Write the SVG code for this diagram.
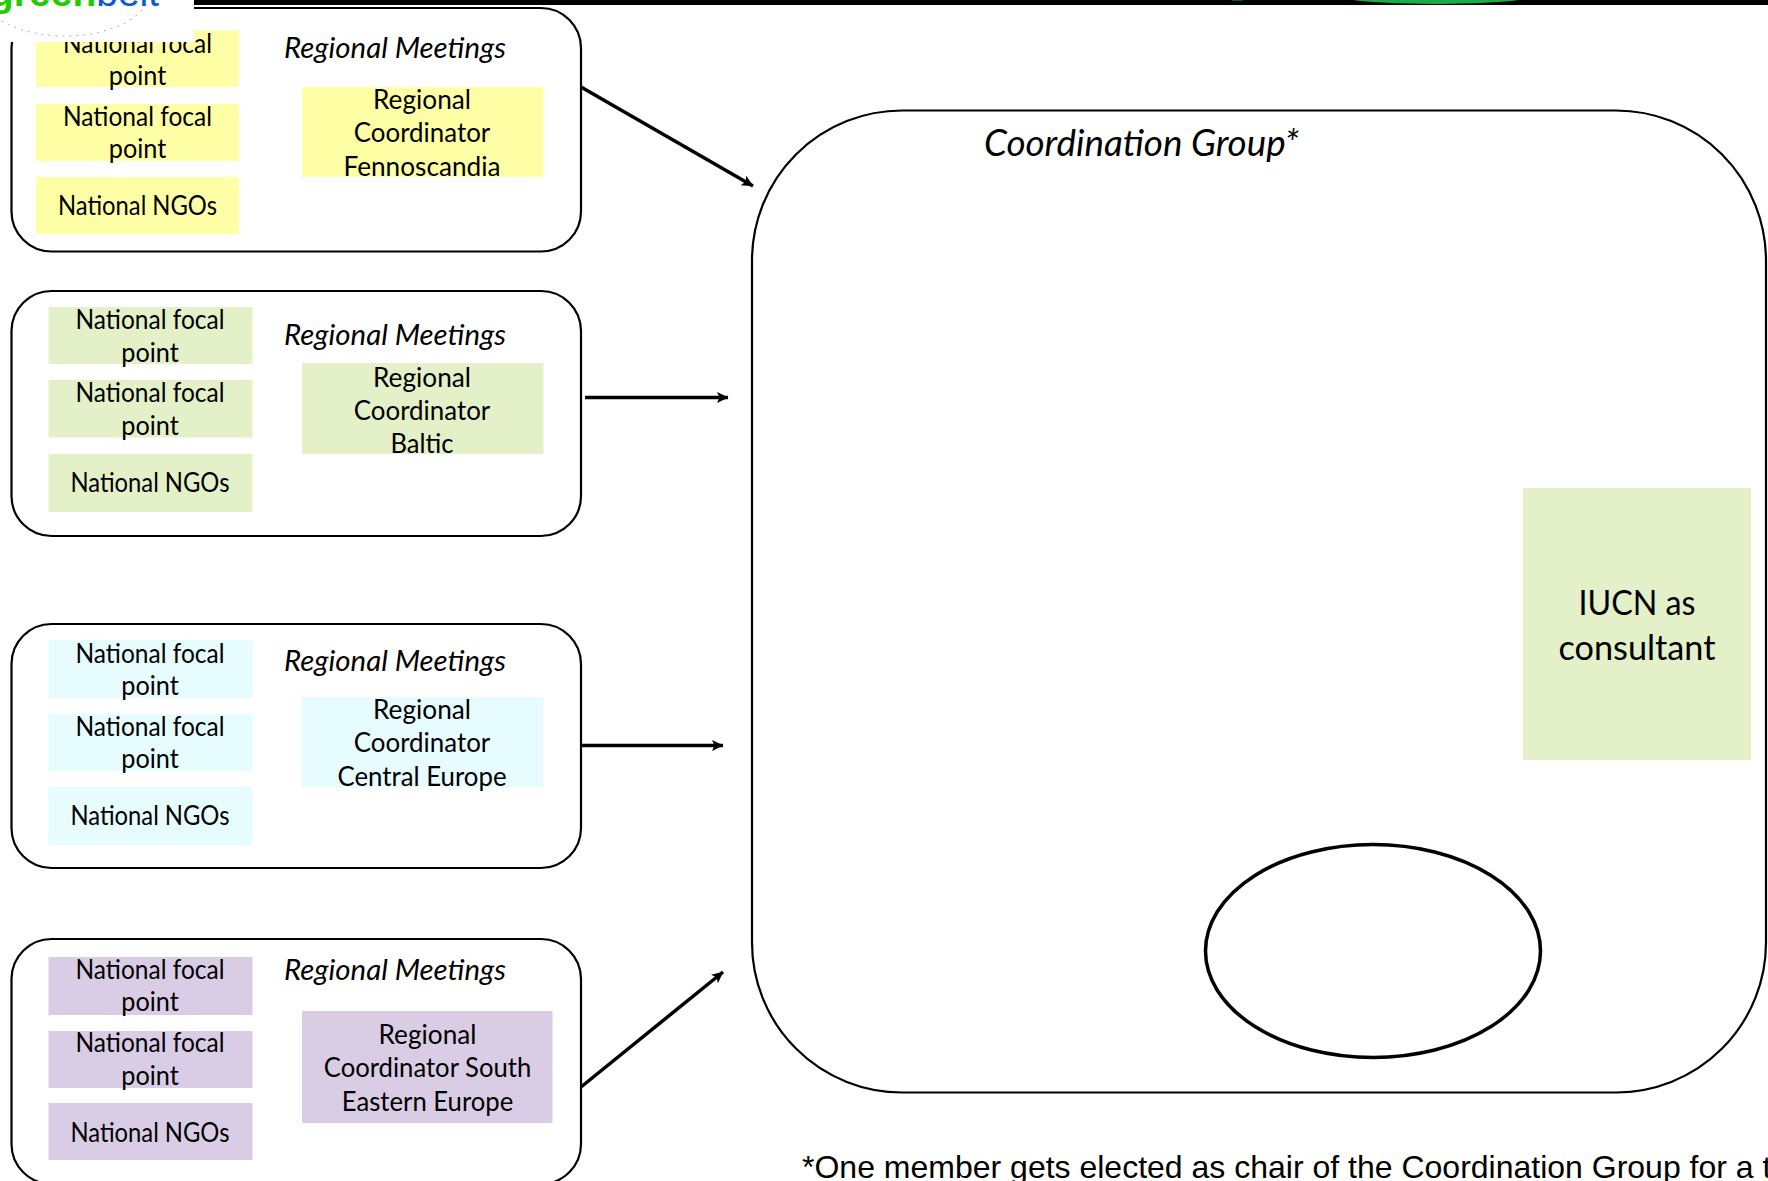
<svg xmlns="http://www.w3.org/2000/svg" width="1768" height="1181" viewBox="0 0 1768 1181">
<style>
text{font-family:"Lato","Carlito","Liberation Sans",sans-serif;fill:#000}
.c{text-anchor:middle;font-size:27px}
.i{font-style:italic;font-size:28px}
.box{fill:#fff;stroke:#000;stroke-width:2.200}
.y{fill:#ffffa6}.g{fill:#e3f0c8}.b{fill:#e6fcff}.p{fill:#d9cde6}
.arrow{fill:none;stroke:#000;stroke-width:3.500;marker-end:url(#ah)}
</style>
<defs>
<marker id="ah" markerUnits="userSpaceOnUse" markerWidth="13" markerHeight="13" refX="11" refY="6" orient="auto"><path d="M0 0.500L11.500 6L0 11.500L2.500 6Z" fill="#000"/></marker>
<clipPath id="logoclip"><rect x="0" y="0" width="194" height="42"/></clipPath>
<clipPath id="barclip"><rect x="0" y="0" width="1768" height="5"/></clipPath>
</defs>
<rect width="1768" height="1181" fill="#fff"/>
<g id="top-bar"><rect x="194" y="0" width="1574" height="5" fill="#000"/><ellipse cx="1436" cy="-16" rx="140" ry="20" fill="#18ad45" clip-path="url(#barclip)"/><rect x="1232" y="0" width="11" height="1" fill="#0a5a28"/></g>
<g id="region-fennoscandia">
<rect class="box" x="11.500" y="8" width="569.500" height="243.500" rx="40"/>
<rect class="y" x="36" y="30" width="203" height="57"/><rect class="y" x="36" y="104" width="203" height="57"/><rect class="y" x="36" y="177" width="203" height="57"/>
<text class="c" x="137.500" y="53" textLength="149" lengthAdjust="spacingAndGlyphs">National focal</text><text class="c" x="137.500" y="85" textLength="57.500" lengthAdjust="spacingAndGlyphs">point</text>
<text class="c" x="137.500" y="126" textLength="149" lengthAdjust="spacingAndGlyphs">National focal</text><text class="c" x="137.500" y="158" textLength="57.500" lengthAdjust="spacingAndGlyphs">point</text>
<text class="c" x="137.500" y="215" textLength="159" lengthAdjust="spacingAndGlyphs">National NGOs</text>
<text class="i" x="284" y="58" textLength="222" lengthAdjust="spacingAndGlyphs">Regional Meetings</text>
<rect class="y" x="302" y="87" width="241.500" height="90"/>
<text class="c" x="422" y="108.500" textLength="98" lengthAdjust="spacingAndGlyphs">Regional</text><text class="c" x="422" y="141.500" textLength="136.500" lengthAdjust="spacingAndGlyphs">Coordinator</text><text class="c" x="422" y="176" textLength="157" lengthAdjust="spacingAndGlyphs">Fennoscandia</text>
</g>
<g id="region-baltic">
<rect class="box" x="11.500" y="291" width="569.500" height="245" rx="40"/>
<rect class="g" x="48.500" y="307" width="204" height="57"/><rect class="g" x="48.500" y="380" width="204" height="57.500"/><rect class="g" x="48.500" y="454" width="204" height="58"/>
<text class="c" x="150" y="329" textLength="149" lengthAdjust="spacingAndGlyphs">National focal</text><text class="c" x="150" y="361.500" textLength="57.500" lengthAdjust="spacingAndGlyphs">point</text>
<text class="c" x="150" y="402" textLength="149" lengthAdjust="spacingAndGlyphs">National focal</text><text class="c" x="150" y="434.500" textLength="57.500" lengthAdjust="spacingAndGlyphs">point</text>
<text class="c" x="150" y="492" textLength="159" lengthAdjust="spacingAndGlyphs">National NGOs</text>
<text class="i" x="284" y="345" textLength="222" lengthAdjust="spacingAndGlyphs">Regional Meetings</text>
<rect class="g" x="302" y="363" width="241.500" height="91"/>
<text class="c" x="422" y="386.500" textLength="98" lengthAdjust="spacingAndGlyphs">Regional</text><text class="c" x="422" y="419.500" textLength="136.500" lengthAdjust="spacingAndGlyphs">Coordinator</text><text class="c" x="422" y="453" textLength="63" lengthAdjust="spacingAndGlyphs">Baltic</text>
</g>
<g id="region-central-europe">
<rect class="box" x="11.500" y="624" width="569.500" height="244" rx="40"/>
<rect class="b" x="48.500" y="640" width="204" height="58"/><rect class="b" x="48.500" y="714" width="204" height="57"/><rect class="b" x="48.500" y="787" width="204" height="58"/>
<text class="c" x="150" y="662.500" textLength="149" lengthAdjust="spacingAndGlyphs">National focal</text><text class="c" x="150" y="694.500" textLength="57.500" lengthAdjust="spacingAndGlyphs">point</text>
<text class="c" x="150" y="735.500" textLength="149" lengthAdjust="spacingAndGlyphs">National focal</text><text class="c" x="150" y="768" textLength="57.500" lengthAdjust="spacingAndGlyphs">point</text>
<text class="c" x="150" y="825" textLength="159" lengthAdjust="spacingAndGlyphs">National NGOs</text>
<text class="i" x="284" y="671" textLength="222" lengthAdjust="spacingAndGlyphs">Regional Meetings</text>
<rect class="b" x="302" y="697" width="241.500" height="90"/>
<text class="c" x="422" y="719" textLength="98" lengthAdjust="spacingAndGlyphs">Regional</text><text class="c" x="422" y="752" textLength="136.500" lengthAdjust="spacingAndGlyphs">Coordinator</text><text class="c" x="422" y="786" textLength="169" lengthAdjust="spacingAndGlyphs">Central Europe</text>
</g>
<g id="region-south-eastern-europe">
<rect class="box" x="11.500" y="939" width="569.500" height="245" rx="40"/>
<rect class="p" x="48.500" y="957" width="204" height="58"/><rect class="p" x="48.500" y="1031" width="204" height="57"/><rect class="p" x="48.500" y="1103" width="204" height="57"/>
<text class="c" x="150" y="979" textLength="149" lengthAdjust="spacingAndGlyphs">National focal</text><text class="c" x="150" y="1010.500" textLength="57.500" lengthAdjust="spacingAndGlyphs">point</text>
<text class="c" x="150" y="1052" textLength="149" lengthAdjust="spacingAndGlyphs">National focal</text><text class="c" x="150" y="1085" textLength="57.500" lengthAdjust="spacingAndGlyphs">point</text>
<text class="c" x="150" y="1142" textLength="159" lengthAdjust="spacingAndGlyphs">National NGOs</text>
<text class="i" x="284" y="980" textLength="222" lengthAdjust="spacingAndGlyphs">Regional Meetings</text>
<rect class="p" x="302" y="1011" width="250.500" height="112"/>
<text class="c" x="427.500" y="1044" textLength="98" lengthAdjust="spacingAndGlyphs">Regional</text><text class="c" x="427.500" y="1077" textLength="207.500" lengthAdjust="spacingAndGlyphs">Coordinator South</text><text class="c" x="427.500" y="1111" textLength="171.500" lengthAdjust="spacingAndGlyphs">Eastern Europe</text>
</g>
<g id="coordination-group">
<rect class="box" x="752" y="110.500" width="1014" height="982" rx="150"/>
<text class="i" x="984" y="155.500" style="font-size:36px" textLength="315" lengthAdjust="spacingAndGlyphs">Coordination Group*</text>
</g>
<g id="iucn">
<rect class="g" x="1523" y="488" width="228" height="272"/>
<text class="c" x="1637" y="615" style="font-size:34px" textLength="117" lengthAdjust="spacingAndGlyphs">IUCN as</text><text class="c" x="1637" y="660" style="font-size:34px" textLength="157" lengthAdjust="spacingAndGlyphs">consultant</text>
</g>
<g id="oval"><ellipse cx="1373" cy="951" rx="167.500" ry="106.500" fill="#fff" stroke="#000" stroke-width="3.500"/></g>
<g id="connectors">
<path class="arrow" d="M581 87L753 186"/>
<path class="arrow" d="M585 397.500H728"/>
<path class="arrow" d="M581 745.500H723"/>
<path class="arrow" d="M581 1087L723 972"/>
</g>
<g id="footnote"><text x="802" y="1178" style="font-family:'Liberation Sans',Arial,sans-serif;font-size:32px">*One member gets elected as chair of the Coordination Group for a t</text></g>
<g id="logo">
<rect x="0" y="0" width="194" height="42" fill="#fff"/>
<g clip-path="url(#logoclip)">
<ellipse cx="65" cy="-9" rx="85" ry="45" fill="none" stroke="#bbb" stroke-width="1.200" stroke-dasharray="2 5"/>
<text x="-10" y="6" style="font-family:'Liberation Sans',sans-serif;font-size:39px;font-weight:bold"><tspan style="fill:#22cc00">green</tspan><tspan style="fill:#0a5ad0;font-weight:normal">belt</tspan></text>
</g>
</g>
</svg>
